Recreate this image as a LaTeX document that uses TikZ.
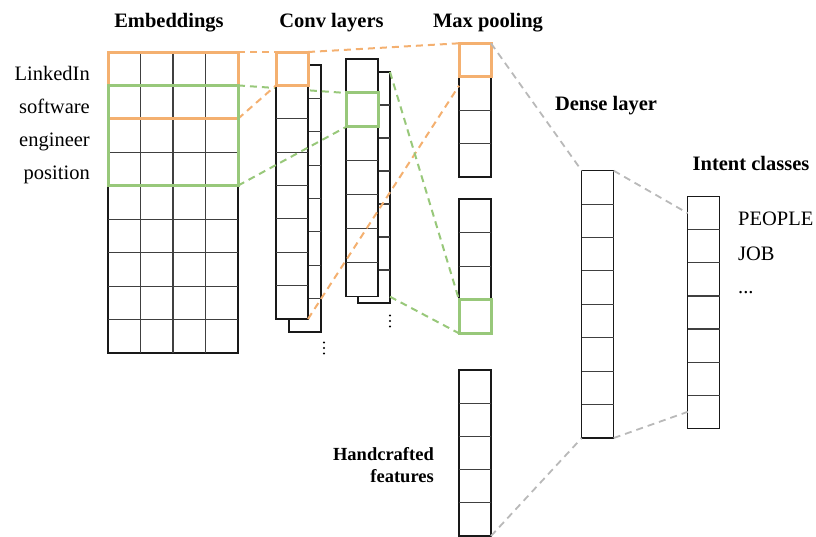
\documentclass[tikz,border=0pt]{standalone}
\usepackage{fontspec}
\setmainfont{Liberation Serif}
\usetikzlibrary{calc}
\definecolor{orangeL}{RGB}{244,176,112}
\definecolor{greenL}{RGB}{152,200,122}
\definecolor{greyL}{RGB}{185,185,185}
\tikzset{
  colbox/.style={draw=black!90, fill=white, line width=1.1pt, inner sep=0pt, outer sep=0pt, anchor=north west},
  cellline/.style={draw=black!75, line width=1.1pt},
  obox/.style={draw=orangeL, line width=3pt, inner sep=0pt, outer sep=0pt, anchor=north west},
  gbox/.style={draw=greenL, line width=3pt, inner sep=0pt, outer sep=0pt, anchor=north west},
  odash/.style={draw=orangeL, line width=2pt, dash pattern=on 7pt off 5pt},
  gdash/.style={draw=greenL, line width=2pt, dash pattern=on 7pt off 5pt},
  ydash/.style={draw=greyL, line width=1.8pt, dash pattern=on 7pt off 5pt},
  lbl/.style={font=\fontsize{20.5}{24}\selectfont, inner sep=0pt},
  ttl/.style={font=\fontsize{20.5}{24}\selectfont\bfseries, inner sep=0pt, anchor=base},
  hcl/.style={font=\fontsize{18.5}{22}\selectfont\bfseries, inner sep=0pt, anchor=base east},
}
% #1 name, #2 x, #3 y, #4 total height, #5 number of cells
\newcommand{\cellcol}[5]{%
  \node[colbox, minimum width=32pt, minimum height=#4pt] (#1) at (#2,#3) {};
  \foreach \k in {2,...,#5}{%
    \pgfmathsetmacro{\fr}{(\k-1)/#5}%
    \draw[cellline] ($(#1.north west)!\fr!(#1.south west)$) -- ($(#1.north east)!\fr!(#1.south east)$);
  }%
}
\begin{document}
\begin{tikzpicture}[x=1pt, y=-1pt]
\useasboundingbox (0,0) rectangle (816,536);

% titles
\node[ttl] (tEmb) at (169,27) {Embeddings};
\node[ttl] (tConv) at (331.5,27) {Conv layers};
\node[ttl] (tMax) at (488,27) {Max pooling};
\node[ttl] (tDense) at (606,110) {Dense layer};
\node[ttl] (tInt) at (751,170) {Intent classes};

% words
\node[lbl, anchor=base east] (w1) at (90,80) {LinkedIn};
\node[lbl, anchor=base east] (w2) at (90,113) {software};
\node[lbl, anchor=base east] (w3) at (90,146) {engineer};
\node[lbl, anchor=base east] (w4) at (90,179) {position};

% embeddings grid
\node[colbox, minimum width=130pt, minimum height=301pt] (emb) at (108,52) {};
\foreach \k in {1,2,3}{%
  \pgfmathsetmacro{\fr}{\k/4}%
  \draw[cellline] ($(emb.north west)!\fr!(emb.north east)$) -- ($(emb.south west)!\fr!(emb.south east)$);
}
\foreach \k in {1,...,8}{%
  \pgfmathsetmacro{\fr}{\k/9}%
  \draw[cellline] ($(emb.north west)!\fr!(emb.south west)$) -- ($(emb.north east)!\fr!(emb.south east)$);
}
\node[obox, minimum width=130pt, minimum height=66.8pt] (embO) at (emb.north west) {};
\node[gbox, minimum width=130pt, minimum height=100.2pt] (embG) at ($(emb.north west)+(0,33.4)$) {};

% conv layer 1 (back, then front)
\cellcol{c1b}{289}{65}{267}{8}
% conv layer 2
\cellcol{c2b}{358}{72}{231}{7}
\cellcol{c2f}{346}{59}{237.7}{7}
\node[gbox, minimum width=32pt, minimum height=34pt] (c2G) at ($(c2f.north west)+(0,33.96)$) {};

% green line behind the front column of conv 1
\draw[gdash] (embG.north east) -- (c2G.north west);

\cellcol{c1f}{276}{52}{267}{8}
\node[obox, minimum width=32pt, minimum height=33.4pt] (c1O) at (c1f.north west) {};

% max pooling
\cellcol{mp1}{459}{43.3}{133.7}{4}
\cellcol{mp2}{459}{199}{134.3}{4}
\cellcol{mp3}{459}{370}{166}{5}
\node[obox, minimum width=32pt, minimum height=33.4pt] (mpO) at (mp1.north west) {};
\node[gbox, minimum width=32pt, minimum height=33.6pt] (mpG) at ($(mp2.north west)+(0,100.7)$) {};

% dense and intent
\cellcol{dense}{581.7}{170.7}{267.3}{8}
\cellcol{intent}{687.7}{196.7}{231.6}{7}

% dots
\foreach \yy in {342.5,348,353.5} \fill (324,\yy) circle (1.1pt);
\foreach \yy in {315.5,321,326.5} \fill (390,\yy) circle (1.1pt);

% connectors
\draw[odash] (embO.north east) -- (c1O.north west);
\draw[odash] (embO.south east) -- (c1O.south west);
\draw[odash] (c1O.north east) -- (mpO.north west);
\draw[odash] (c1f.south east) -- ($(mpO.south west)+(0,9)$);
\draw[gdash] (embG.south east) -- (c2G.south west);
\draw[gdash] (c2b.north east) -- (mpG.north west);
\draw[gdash] (c2b.east |- c2f.south) -- (mpG.south west);
\draw[ydash] (mpO.north east) -- (dense.north west);
\draw[ydash] (dense.north east) -- ($(intent.north west)+(0,16.5)$);
\draw[ydash] (dense.south east) -- ($(intent.south west)+(0,-16.5)$);
\draw[ydash] (mp3.south east) -- (dense.south west);

% redraw colored boxes on top
\node[obox, minimum width=130pt, minimum height=66.8pt] at (emb.north west) {};
\node[gbox, minimum width=130pt, minimum height=100.2pt] at ($(emb.north west)+(0,33.4)$) {};

% intent labels
\node[lbl, anchor=base west] (p1) at (738,225) {PEOPLE};
\node[lbl, anchor=base west] (p2) at (738,260) {JOB};
\node[lbl, anchor=base west] (p3) at (738,293) {...};

% handcrafted
\node[hcl] (h1) at (434,460) {Handcrafted};
\node[hcl] (h2) at (434,482) {features};
\end{tikzpicture}
\end{document}
